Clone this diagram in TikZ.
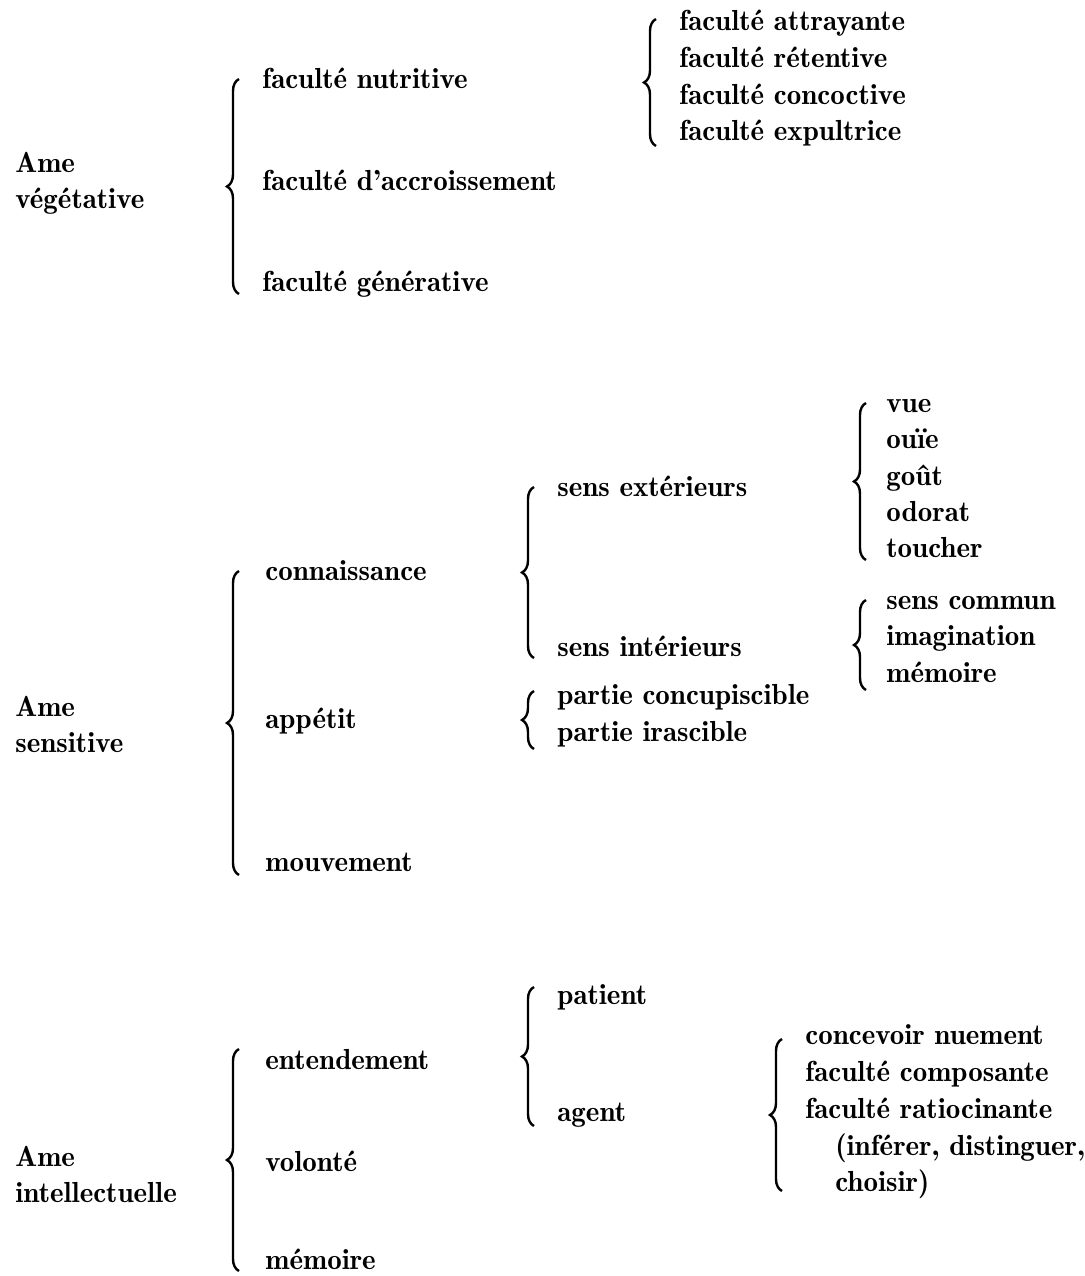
\documentclass[tikz,border=0pt]{standalone}
\usetikzlibrary{positioning,calc,decorations.pathreplacing}

\tikzset{
    lbl/.style={anchor=mid west, inner sep=0pt, yshift=-2pt, font=\fontsize{14.5}{18}\fontseries{b}\selectfont},
    ame/.style={anchor=west, inner sep=0pt, yshift=-1pt, align=left, font=\fontsize{14.5}{18}\fontseries{b}\selectfont},
    brc/.style={decorate, decoration={brace, amplitude=6pt, aspect=0.5}, line width=1.2pt},
}

\begin{document}
\begin{tikzpicture}[x=0.5pt, y=-0.5pt]
    \useasboundingbox (0,0) rectangle (1084,1276);

    % Ame vegetative
    \node[ame] (veg) at (15,181) {Ame\\végétative};
    \node[lbl] (nutr) at (262,80) {faculté nutritive};
    \node[lbl] (accr) at (262,182) {faculté d’accroissement};
    \node[lbl] (gene) at (262,283) {faculté générative};
    \draw[brc] ($(gene.mid west)+(-23,7)$) -- ($(nutr.mid west)+(-23,-5)$);

    \node[lbl] (attr) at (679,22) {faculté attrayante};
    \node[lbl] (rete) at (679,59) {faculté rétentive};
    \node[lbl] (conc) at (679,96) {faculté concoctive};
    \node[lbl] (expu) at (679,132) {faculté expultrice};
    \draw[brc] ($(expu.mid west)+(-23,10)$) -- ($(attr.mid west)+(-23,-7)$);

    % Ame sensitive
    \node[ame] (sen) at (15,722) {Ame\\sensitive};
    \node[lbl] (conn) at (265,572) {connaissance};
    \node[lbl] (appe) at (265,720) {appétit};
    \node[lbl] (mouv) at (265,863) {mouvement};
    \draw[brc] ($(mouv.mid west)+(-26,8)$) -- ($(conn.mid west)+(-26,-5)$);

    \node[lbl] (sext) at (557,488) {sens extérieurs};
    \node[lbl] (sint) at (557,648) {sens intérieurs};
    \draw[brc] ($(sint.mid west)+(-23,6)$) -- ($(sext.mid west)+(-23,-5)$);

    \node[lbl] (conp) at (557,696) {partie concupiscible};
    \node[lbl] (iras) at (557,733) {partie irascible};
    \draw[brc] ($(iras.mid west)+(-23,12)$) -- ($(conp.mid west)+(-23,-9)$);

    \node[lbl] (vue) at (886,404) {vue};
    \node[lbl] (ouie) at (886,440) {ouïe};
    \node[lbl] (gout) at (886,477) {goût};
    \node[lbl] (odor) at (886,513) {odorat};
    \node[lbl] (touc) at (886,549) {toucher};
    \draw[brc] ($(touc.mid west)+(-20,7)$) -- ($(vue.mid west)+(-20,-5)$);

    \node[lbl] (scom) at (886,601) {sens commun};
    \node[lbl] (imag) at (886,637) {imagination};
    \node[lbl] (memr) at (886,674) {mémoire};
    \draw[brc] ($(memr.mid west)+(-20,12)$) -- ($(scom.mid west)+(-20,-5)$);

    % Ame intellectuelle
    \node[ame] (int) at (15,1172) {Ame\\intellectuelle};
    \node[lbl] (ente) at (265,1061) {entendement};
    \node[lbl] (volo) at (265,1163) {volonté};
    \node[lbl] (memo) at (265,1261) {mémoire};
    \draw[brc] ($(memo.mid west)+(-26,6)$) -- ($(ente.mid west)+(-26,-16)$);

    \node[lbl] (pati) at (557,996) {patient};
    \node[lbl] (agen) at (557,1113) {agent};
    \draw[brc] ($(agen.mid west)+(-23,9)$) -- ($(pati.mid west)+(-23,-13)$);

    \node[lbl] (conv) at (805,1036) {concevoir nuement};
    \node[lbl] (comp) at (805,1073) {faculté composante};
    \node[lbl] (rati) at (805,1110) {faculté ratiocinante};
    \node[lbl] (infe) at (835,1147) {(inférer, distinguer,};
    \node[lbl] (chos) at (835,1183) {choisir)};
    \draw[brc] ($(chos.mid west)+(-53,4)$) -- ($(conv.mid west)+(-23,-1)$);
\end{tikzpicture}
\end{document}
